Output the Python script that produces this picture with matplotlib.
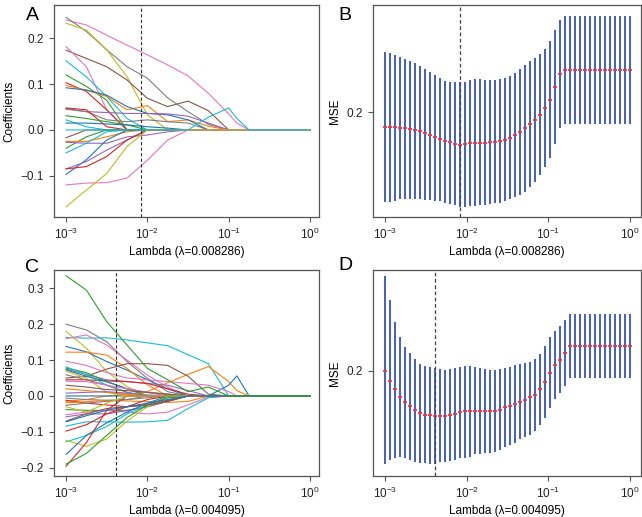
"""
LASSO coefficient paths and cross-validated MSE for two models.
"""
import numpy as np
import matplotlib.pyplot as plt

plt.rcParams['font.family'] = ['Liberation Sans', 'DejaVu Sans']
plt.rcParams['font.size'] = 8.5

# log10(lambda) knots at which the coefficient paths were read
log_lambda_knots = [-3, -2.75, -2.5, -2.25, -2, -1.75, -1.5, -1.25, -1, -0.9, -0.75, 0]

# lambda sequence of the cross-validation (50 values, log spaced like glmnet)
cv_lambda = np.logspace(-3, 0, 50)

lambda_min_top = 0.008286
lambda_min_bottom = 0.004095

# ---- panel A: coefficient paths ----
paths_a = [
    [0.240, 0.229, 0.207, 0.185, 0.164, 0.142, 0.118, 0.080, 0.035, 0.015, 0, 0],
    [0.246, 0.215, 0.175, 0.138, 0.113, 0.070, 0.040, 0.012, 0, 0, 0, 0],
    [0.233, 0.218, 0.175, 0.116, 0.033, 0, 0, 0, 0, 0, 0, 0],
    [0.174, 0.156, 0.138, 0.109, 0.069, 0.051, 0.063, 0.042, 0, 0, 0, 0],
    [0.182, 0.138, 0.044, 0, 0, 0, 0, 0, 0, 0, 0, 0],
    [0.151, 0.116, 0.073, 0.025, 0, 0, 0, 0, 0, 0, 0, 0],
    [0.120, 0.095, 0.065, 0, 0, 0, 0, 0, 0, 0, 0, 0],
    [0.103, 0.084, 0.044, 0, 0, 0, 0, 0, 0, 0, 0, 0],
    [0.097, 0.087, 0.073, 0.044, 0.053, 0.018, 0.022, 0.008, 0, 0, 0, 0],
    [0.092, 0.087, 0.076, 0.051, 0.036, 0.033, 0.022, 0, 0, 0, 0, 0],
    [0.047, 0.040, 0.038, 0.036, 0.036, 0.035, 0.030, 0.015, 0, 0, 0, 0],
    [0.045, 0.040, 0.022, 0.018, 0.022, 0.018, 0.015, 0, 0, 0, 0, 0],
    [0.048, 0.044, 0.007, 0, 0, 0, 0, 0, 0, 0, 0, 0],
    [0.031, 0.025, 0.018, 0.011, 0, 0, 0, 0, 0, 0, 0, 0],
    [0.022, 0.007, 0, 0, 0, 0, 0, 0, 0, 0, 0, 0],
    [0.015, 0.015, 0.013, 0.011, 0.007, 0.004, 0, 0, 0, 0, 0, 0],
    [-0.017, 0, 0, 0, 0, 0, 0, 0, 0, 0, 0, 0],
    [-0.040, -0.015, 0, 0, 0, 0, 0, 0, 0, 0, 0, 0],
    [-0.025, -0.025, -0.015, -0.004, 0, 0, 0, 0, 0, 0, 0, 0],
    [-0.027, -0.029, -0.029, -0.015, -0.011, -0.004, 0, 0, 0, 0, 0, 0],
    [-0.050, -0.029, -0.004, 0, 0, 0, 0, 0, 0, 0, 0, 0],
    [-0.097, -0.065, -0.022, 0, 0, 0, 0, 0, 0, 0, 0, 0],
    [-0.085, -0.069, -0.044, -0.022, 0, 0, 0, 0, 0, 0, 0, 0],
    [-0.085, -0.080, -0.058, -0.022, 0, 0, 0, 0, 0, 0, 0, 0],
    [-0.120, -0.116, -0.115, -0.105, -0.066, -0.022, 0, 0, 0, 0, 0, 0],
    [-0.168, -0.131, -0.095, -0.036, 0, 0, 0, 0, 0, 0, 0, 0],
    [0, 0, 0, 0, 0, 0, 0, 0.028, 0.048, 0.025, 0, 0],
]
colors_a = ['C6', 'C7', 'C8', 'C5', 'C6', 'C9', 'C2', 'C3', 'C1', 'C0',
            'C4', 'C7', 'C3', 'C2', 'C9', 'C0', 'C5', 'C2', 'C1', 'C4',
            'C9', 'C0', 'C4', 'C3', 'C6', 'C8', 'C9']

# ---- panel C: coefficient paths ----
paths_c = [
    [0.200, 0.184, 0.151, 0.096, 0.049, 0.012, 0, 0, 0, 0, 0, 0],
    [0.163, 0.161, 0.162, 0.156, 0.148, 0.140, 0.115, 0.090, 0, 0, 0, 0],
    [0.180, 0.133, 0.068, 0.026, 0, 0, 0, 0, 0, 0, 0, 0],
    [0.160, 0.170, 0.142, 0.100, 0.058, 0.025, 0, 0, 0, 0, 0, 0],
    [0.138, 0.123, 0.096, 0.072, 0.045, 0.020, 0, 0, 0, 0, 0, 0],
    [0.122, 0.122, 0.114, 0.077, 0.031, 0, 0, 0, 0, 0, 0, 0],
    [-0.015, -0.010, 0.000, 0.005, 0.012, 0.037, 0.060, 0.082, 0.040, 0.015, 0, 0],
    [0.050, 0.055, 0.075, 0.090, 0.090, 0.085, 0.055, 0.005, 0, 0, 0, 0],
    [0, 0, 0, 0, 0, 0, 0, 0, 0.030, 0.056, 0, 0],
    [0.097, 0.085, 0.065, 0.050, 0.045, 0.040, 0.035, 0.030, 0.012, 0, 0, 0],
    [0.075, 0.060, 0.045, 0.040, 0.035, 0.030, 0.015, 0, 0, 0, 0, 0],
    [0.045, 0.045, 0.042, 0.040, 0.035, 0.020, 0.005, 0, 0, 0, 0, 0],
    [0.078, 0.065, 0.040, 0.020, 0, 0, 0, 0, 0, 0, 0, 0],
    [0.081, 0.060, 0.030, 0.010, 0, 0, 0, 0, 0, 0, 0, 0],
    [0.073, 0.055, 0.040, 0.020, 0.010, 0.005, 0, 0, 0, 0, 0, 0],
    [0.069, 0.050, 0.010, 0, 0, 0, 0, 0, 0, 0, 0, 0],
    [0.059, 0.045, 0.030, 0.010, 0, 0, 0, 0, 0, 0, 0, 0],
    [0.041, 0.040, 0.030, 0.020, 0.010, 0, 0, 0, 0, 0, 0, 0],
    [0.030, 0.025, 0.018, 0.015, 0.010, 0.005, 0, 0, 0, 0, 0, 0],
    [0.020, 0.015, 0.010, 0.005, 0, 0, 0, 0, 0, 0, 0, 0],
    [0.008, 0.010, 0.012, 0.008, 0.003, 0, 0, 0, 0, 0, 0, 0],
    [-0.006, -0.010, -0.012, -0.010, -0.005, 0, 0, 0, 0, 0, 0, 0],
    [-0.012, -0.020, -0.025, -0.030, -0.025, -0.012, 0, 0, 0, 0, 0, 0],
    [-0.019, -0.016, -0.012, -0.014, -0.016, -0.018, -0.015, 0, 0, 0, 0, 0],
    [-0.038, -0.040, -0.040, -0.040, -0.030, -0.015, 0, 0, 0, 0, 0, 0],
    [-0.052, -0.045, -0.040, -0.045, -0.050, -0.045, -0.025, -0.003, 0, 0, 0, 0],
    [-0.084, -0.072, -0.072, -0.073, -0.072, -0.068, -0.035, -0.005, 0, 0, 0, 0],
    [-0.058, -0.050, -0.050, -0.040, -0.030, -0.015, 0, 0, 0, 0, 0, 0],
    [-0.098, -0.080, -0.050, -0.030, -0.010, 0, 0, 0, 0, 0, 0, 0],
    [-0.128, -0.110, -0.085, -0.050, -0.025, -0.005, 0, 0, 0, 0, 0, 0],
    [-0.124, -0.140, -0.120, -0.070, -0.030, 0, 0, 0, 0, 0, 0, 0],
    [-0.163, -0.110, -0.075, -0.045, -0.020, 0, 0, 0, 0, 0, 0, 0],
    [-0.196, -0.130, -0.040, 0, 0, 0, 0, 0, 0, 0, 0, 0],
    [-0.190, -0.160, -0.110, -0.060, -0.025, -0.005, 0, 0, 0, 0, 0, 0],
    [-0.026, -0.020, -0.015, -0.010, 0, 0, 0, 0, 0, 0, 0, 0],
    [-0.030, -0.045, -0.020, 0, 0, 0, 0, 0, 0, 0, 0, 0],
    [-0.070, -0.050, -0.035, -0.030, -0.025, -0.015, 0, 0, 0, 0, 0, 0],
    [-0.072, -0.055, -0.040, -0.030, -0.020, -0.010, 0, 0, 0, 0, 0, 0],
    [0.335, 0.295, 0.207, 0.142, 0.077, 0.045, 0.012, 0.025, 0, 0, 0, 0],
]
colors_c = ['C7', 'C9', 'C8', 'C6', 'C0', 'C1', 'C1', 'C5', 'C0', 'C6',
            'C4', 'C3', 'C2', 'C9', 'C0', 'C8', 'C7', 'C6', 'C5', 'C1',
            'C4', 'C7', 'C3', 'C1', 'C2', 'C6', 'C9', 'C4', 'C3', 'C9',
            'C8', 'C0', 'C3', 'C2', 'C7', 'C8', 'C5', 'C0', 'C2']

# ---- panel B: cross-validated MSE ----
mse_mean_b = [0.1912, 0.1910, 0.1910, 0.1908, 0.1906, 0.1900, 0.1896, 0.1888, 0.1878, 0.1866,
              0.1852, 0.1838, 0.1828, 0.1820, 0.1812, 0.1806, 0.1808, 0.1814, 0.1818, 0.1818,
              0.1818, 0.1820, 0.1822, 0.1826, 0.1834, 0.1846, 0.1864, 0.1882, 0.1904, 0.1930,
              0.1956, 0.1986, 0.2024, 0.2076, 0.2152, 0.2228, 0.2252, 0.2252, 0.2252, 0.2252,
              0.2252, 0.2252, 0.2252, 0.2252, 0.2252, 0.2252, 0.2252, 0.2252, 0.2252, 0.2252]
mse_upper_b = [0.2360, 0.2354, 0.2344, 0.2334, 0.2322, 0.2310, 0.2298, 0.2278, 0.2262, 0.2244,
               0.2224, 0.2204, 0.2190, 0.2184, 0.2180, 0.2182, 0.2184, 0.2192, 0.2200, 0.2198,
               0.2194, 0.2194, 0.2194, 0.2198, 0.2204, 0.2218, 0.2238, 0.2258, 0.2284, 0.2308,
               0.2328, 0.2350, 0.2380, 0.2428, 0.2494, 0.2554, 0.2578, 0.2578, 0.2578, 0.2578,
               0.2578, 0.2578, 0.2578, 0.2578, 0.2578, 0.2578, 0.2578, 0.2578, 0.2578, 0.2578]
mse_lower_b = [0.1460, 0.1464, 0.1470, 0.1478, 0.1482, 0.1482, 0.1482, 0.1478, 0.1474, 0.1474,
               0.1470, 0.1466, 0.1458, 0.1450, 0.1442, 0.1434, 0.1434, 0.1438, 0.1440, 0.1444,
               0.1444, 0.1448, 0.1454, 0.1458, 0.1468, 0.1478, 0.1490, 0.1504, 0.1524, 0.1554,
               0.1584, 0.1624, 0.1670, 0.1728, 0.1808, 0.1904, 0.1930, 0.1930, 0.1930, 0.1930,
               0.1930, 0.1930, 0.1930, 0.1930, 0.1930, 0.1930, 0.1930, 0.1930, 0.1930, 0.1930]

# ---- panel D: cross-validated MSE ----
mse_mean_d = [0.1998, 0.1940, 0.1888, 0.1844, 0.1812, 0.1786, 0.1764, 0.1746, 0.1736, 0.1732,
              0.1728, 0.1728, 0.1730, 0.1734, 0.1742, 0.1752, 0.1758, 0.1758, 0.1758, 0.1758,
              0.1758, 0.1758, 0.1758, 0.1766, 0.1780, 0.1790, 0.1800, 0.1814, 0.1826, 0.1840,
              0.1854, 0.1888, 0.1932, 0.1986, 0.2034, 0.2062, 0.2104, 0.2146, 0.2146, 0.2146,
              0.2146, 0.2146, 0.2146, 0.2146, 0.2146, 0.2146, 0.2146, 0.2146, 0.2146, 0.2146]
mse_upper_d = [0.2568, 0.2424, 0.2294, 0.2204, 0.2144, 0.2104, 0.2068, 0.2042, 0.2028, 0.2022,
               0.2014, 0.2008, 0.2004, 0.2008, 0.2014, 0.2024, 0.2030, 0.2030, 0.2024, 0.2018,
               0.2008, 0.2004, 0.2004, 0.2008, 0.2018, 0.2024, 0.2034, 0.2040, 0.2048, 0.2054,
               0.2068, 0.2098, 0.2148, 0.2200, 0.2238, 0.2268, 0.2304, 0.2338, 0.2338, 0.2338,
               0.2338, 0.2338, 0.2338, 0.2338, 0.2338, 0.2338, 0.2338, 0.2338, 0.2338, 0.2338]
mse_lower_d = [0.1438, 0.1464, 0.1478, 0.1482, 0.1474, 0.1464, 0.1454, 0.1448, 0.1444, 0.1440,
               0.1438, 0.1450, 0.1454, 0.1458, 0.1464, 0.1474, 0.1478, 0.1484, 0.1498, 0.1500,
               0.1504, 0.1508, 0.1514, 0.1524, 0.1540, 0.1554, 0.1564, 0.1588, 0.1604, 0.1614,
               0.1640, 0.1674, 0.1718, 0.1774, 0.1828, 0.1868, 0.1908, 0.1958, 0.1958, 0.1958,
               0.1958, 0.1958, 0.1958, 0.1958, 0.1958, 0.1958, 0.1958, 0.1958, 0.1958, 0.1958]

FRAME = '#555555'


def style_axes(ax, xlim):
    """Common R-like axis styling."""
    ax.set_xscale('log')
    ax.set_xlim(*xlim)
    ax.set_xticks([1e-3, 1e-2, 1e-1, 1e0])
    ax.minorticks_off()
    for s in ax.spines.values():
        s.set_color(FRAME)
        s.set_linewidth(0.9)
    ax.tick_params(direction='out', length=3.6, width=0.8, color=FRAME,
                   labelsize=8.5, labelcolor='#222222')


def plot_paths(ax, paths, colors, lam_min, ylim, yticks):
    """Draw coefficient paths against lambda."""
    knots = 10.0 ** np.array(log_lambda_knots)
    for vals, c in zip(paths, colors):
        ax.plot(knots, vals, color=c, lw=0.8)
    ax.axvline(lam_min, color='#333333', ls=(0, (3, 2)), lw=0.8)
    style_axes(ax, (10 ** -3.148, 10 ** 0.11))
    ax.set_ylim(*ylim)
    ax.set_yticks(yticks)
    ax.set_yticklabels([f'{t:.1f}'.replace('-', '\u2212') for t in yticks])
    ax.set_ylabel('Coefficients', labelpad=4)
    ax.set_xlabel(f'Lambda (λ={lam_min:.6f})', labelpad=3)


def plot_cv(ax, mean, lower, upper, lam_min, ylim):
    """Draw CV mean squared error with error bars."""
    ax.vlines(cv_lambda, lower, upper, color='#3553b8', lw=1.3)
    ax.plot(cv_lambda, mean, ls='none', marker='_', ms=2.6, mew=1.3,
            color='#ff3030')
    ax.axvline(lam_min, color='#444444', ls=(0, (3, 2)), lw=0.9)
    style_axes(ax, (10 ** -3.147, 10 ** 0.135))
    ax.set_ylim(*ylim)
    ax.set_yticks([0.2])
    ax.set_yticklabels(['0.2'])
    ax.set_ylabel('MSE', labelpad=4)
    ax.set_xlabel(f'Lambda (λ={lam_min:.6f})', labelpad=3)


W, H = 642, 517
fig = plt.figure(figsize=(W / 100, H / 100), dpi=100)


def add_axes(left, top, right, bottom):
    return fig.add_axes([left / W, 1 - bottom / H, (right - left) / W, (bottom - top) / H])


ax_a = add_axes(54, 5, 319, 217)
ax_b = add_axes(373, 5, 641, 217)
ax_c = add_axes(54, 270, 319, 476)
ax_d = add_axes(373, 270, 641, 476)

plot_paths(ax_a, paths_a, colors_a, lambda_min_top, (-0.190, 0.2727), [-0.1, 0.0, 0.1, 0.2])
plot_cv(ax_b, mse_mean_b, mse_lower_b, mse_upper_b, lambda_min_top, (0.1372, 0.2644))
plot_paths(ax_c, paths_c, colors_c, lambda_min_bottom, (-0.223, 0.351),
           [-0.2, -0.1, 0.0, 0.1, 0.2, 0.3])
plot_cv(ax_d, mse_mean_d, mse_lower_d, mse_upper_d, lambda_min_bottom, (0.1368, 0.2604))

for letter, (x, y) in zip('ABCD', [(32, 15), (345, 15), (32, 267), (345, 266)]):
    fig.text(x / W, 1 - y / H, letter, fontsize=14, ha='center', va='center')

fig.savefig('out.png', dpi=100)
